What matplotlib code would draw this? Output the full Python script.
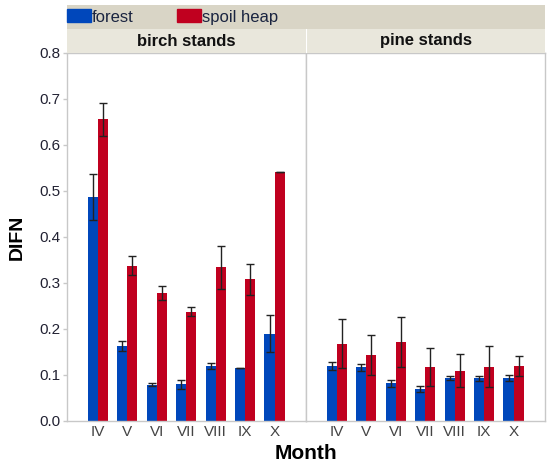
import matplotlib
matplotlib.use("Agg")
import matplotlib.pyplot as plt
from matplotlib.patches import Patch
import numpy as np

plt.rcParams['font.family'] = ['Liberation Sans', 'DejaVu Sans']

# data
months = ["IV", "V", "VI", "VII", "VIII", "IX", "X"]
panels = ["birch stands", "pine stands"]

birch_forest = [0.488, 0.163, 0.079, 0.080, 0.119, 0.115, 0.190]
birch_forest_err = [0.050, 0.011, 0.003, 0.010, 0.007, 0.000, 0.041]
birch_spoil = [0.656, 0.338, 0.278, 0.238, 0.334, 0.308, 0.541]
birch_spoil_err = [0.036, 0.020, 0.015, 0.009, 0.047, 0.034, 0.000]

pine_forest = [0.120, 0.117, 0.082, 0.070, 0.093, 0.093, 0.094]
pine_forest_err = [0.009, 0.008, 0.007, 0.007, 0.004, 0.005, 0.007]
pine_spoil = [0.168, 0.143, 0.172, 0.118, 0.109, 0.118, 0.119]
pine_spoil_err = [0.053, 0.043, 0.054, 0.041, 0.036, 0.045, 0.022]

# colours / constants
FOREST_COLOR = "#0047BB"
SPOIL_COLOR = "#C0001F"
LEGEND_BG = "#D9D5C6"
STRIP_BG = "#E9E7DC"
FRAME_COLOR = "#C8C8C8"
BAR_WIDTH = 0.34

W, H = 550, 468
LEFT, RIGHT = 67 / W, 545 / W
BOTTOM, TOP = (H - 421) / H, (H - 53) / H
STRIP_TOP = (H - 29) / H
LEGEND_TOP = (H - 5) / H

fig = plt.figure(figsize=(5.5, 4.68), dpi=100)
panel_w = (RIGHT - LEFT) / 2

series = [
    (birch_forest, birch_forest_err, birch_spoil, birch_spoil_err),
    (pine_forest, pine_forest_err, pine_spoil, pine_spoil_err),
]

x = np.arange(1, len(months) + 1)
for i, (name, (f, fe, s, se)) in enumerate(zip(panels, series)):
    ax = fig.add_axes([LEFT + i * panel_w, BOTTOM, panel_w, TOP - BOTTOM])
    ax.bar(x - BAR_WIDTH / 2, f, BAR_WIDTH, color=FOREST_COLOR)
    ax.bar(x + BAR_WIDTH / 2, s, BAR_WIDTH, color=SPOIL_COLOR)
    ax.errorbar(x - BAR_WIDTH / 2, f, yerr=fe, fmt="none", ecolor="#222222",
                elinewidth=1, capsize=3, capthick=1)
    ax.errorbar(x + BAR_WIDTH / 2, s, yerr=se, fmt="none", ecolor="#222222",
                elinewidth=1, capsize=3, capthick=1)
    ax.set_xlim(-0.05, 8.07)
    ax.set_ylim(0, 0.8)
    ax.set_xticks(x)
    ax.set_xticklabels(months, fontsize=11, color="#444444")
    ax.tick_params(axis="x", length=0, pad=3)
    for sp in ax.spines.values():
        sp.set_color(FRAME_COLOR)
        sp.set_linewidth(1)
    if i == 0:
        ax.set_yticks(np.arange(0, 0.81, 0.1))
        ax.set_yticklabels([f"{v:.1f}" for v in np.arange(0, 0.81, 0.1)],
                           fontsize=11, color="#222233")
        ax.tick_params(axis="y", length=3, width=1, color=FRAME_COLOR, pad=2)
    else:
        ax.set_yticks([])

    # facet strip
    sax = fig.add_axes([LEFT + i * panel_w, TOP, panel_w, STRIP_TOP - TOP])
    sax.set_facecolor(STRIP_BG)
    sax.set_xticks([])
    sax.set_yticks([])
    for sp in sax.spines.values():
        sp.set_visible(False)
    sax.text(0.5, 0.5, name, ha="center", va="center", fontsize=12,
             fontweight="bold", color="#111111", transform=sax.transAxes)
    if i == 1:
        sax.axvline(0, color="white", lw=1.5)

# legend strip
lax = fig.add_axes([LEFT, STRIP_TOP, RIGHT - LEFT, LEGEND_TOP - STRIP_TOP])
lax.set_facecolor(LEGEND_BG)
lax.set_xticks([])
lax.set_yticks([])
for sp in lax.spines.values():
    sp.set_visible(False)
handles = [Patch(color=FOREST_COLOR, label="forest"),
           Patch(color=SPOIL_COLOR, label="spoil heap")]
lax.legend(handles=handles, loc="center left", bbox_to_anchor=(0.0, 0.5), ncol=2,
           frameon=False, fontsize=12, handlelength=1.45, handleheight=0.8,
           handletextpad=0.05, columnspacing=2.6, borderaxespad=0, borderpad=0,
           labelcolor="#1a2440")

fig.text((LEFT + RIGHT) / 2, 0.03, "Month", ha="center", va="center",
         fontsize=15, fontweight="bold")
fig.text(17 / W, (BOTTOM + TOP) / 2, "DIFN", ha="center", va="center",
         rotation=90, fontsize=14, fontweight="bold")

fig.savefig("out.png", dpi=100)
